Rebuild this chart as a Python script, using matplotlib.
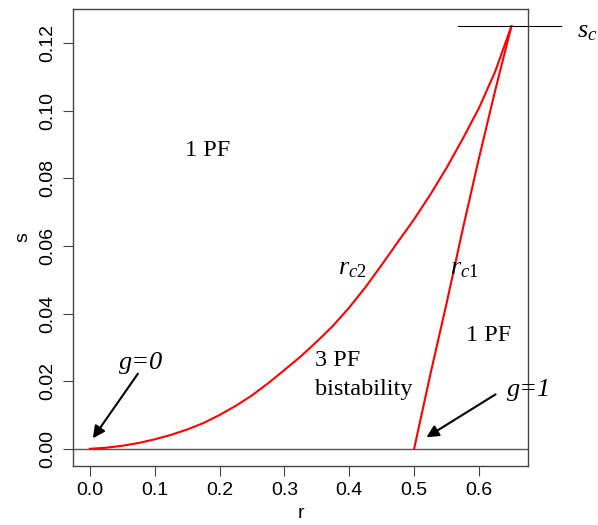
import numpy as np
import matplotlib
matplotlib.use("Agg")
import matplotlib.pyplot as plt

plt.rcParams['font.family'] = ['Liberation Sans', 'DejaVu Sans']
plt.rcParams['mathtext.fontset'] = 'custom'
plt.rcParams['mathtext.rm'] = 'Liberation Serif'
plt.rcParams['mathtext.it'] = 'Liberation Serif:italic'

# critical curves
r_c2 = [0.0, 0.025, 0.05, 0.075, 0.1, 0.125, 0.15, 0.175, 0.2, 0.225, 0.25, 0.275, 0.3,
        0.325, 0.35, 0.375, 0.4, 0.425, 0.45, 0.475, 0.5, 0.525, 0.55, 0.575, 0.6, 0.625, 0.65]
s_c2 = [0.0, 0.0003, 0.0009, 0.0017, 0.0028, 0.0041, 0.0057, 0.0076, 0.0100, 0.0127, 0.0158,
        0.0194, 0.0233, 0.0273, 0.0317, 0.0364, 0.0418, 0.0478, 0.0544, 0.0612, 0.0679, 0.0752,
        0.0831, 0.0917, 0.1008, 0.1116, 0.125]
r_c1 = [0.5, 0.525, 0.55, 0.575, 0.6, 0.625, 0.65]
s_c1 = [0.0, 0.022, 0.043, 0.065, 0.086, 0.106, 0.125]
s_crit = 0.125

xticks = [0.0, 0.1, 0.2, 0.3, 0.4, 0.5, 0.6]
yticks = [0.00, 0.02, 0.04, 0.06, 0.08, 0.10, 0.12]

fig = plt.figure(figsize=(5.98, 5.25), dpi=100)
ax = fig.add_axes([0.1221, 0.1130, 0.7613, 0.8693])

ax.axhline(0, color='#555555', lw=1)
ax.plot(r_c2, s_c2, color='red', lw=1.5)
ax.plot(r_c1, s_c1, color='red', lw=1.5)

# s_c marker line, runs out of the box on the right
ax.plot([0.567, 0.727], [s_crit, s_crit], color='black', lw=0.8, clip_on=False)

ax.set_xlim(-0.026, 0.676)
ax.set_ylim(-0.005, 0.13)
ax.set_xticks(xticks)
ax.set_xticklabels([f'{v:.1f}' for v in xticks])
ax.set_yticks(yticks)
ax.set_yticklabels([f'{v:.2f}' for v in yticks], rotation=90, va='center')
ax.tick_params(labelsize=14, length=7, width=0.8, color='#444444', pad=5)
for sp in ax.spines.values():
    sp.set_color('#444444')
    sp.set_linewidth(1)
ax.set_xlabel('r', fontsize=14, labelpad=4)
ax.set_ylabel('s', fontsize=14, labelpad=6)

serif = dict(family='Liberation Serif', fontsize=17.5)
ax.text(0.182, 0.0882, '1 PF', ha='center', va='center', **serif)
ax.text(0.615, 0.0336, '1 PF', ha='center', va='center', **serif)
ax.text(0.347, 0.0262, '3 PF', ha='left', va='center', **serif)
ax.text(0.347, 0.0176, 'bistability', ha='left', va='center', **serif)
ax.text(0.405, 0.0535, r'$r_{c2}$', ha='center', va='center', fontsize=19)
ax.text(0.577, 0.0535, r'$r_{c1}$', ha='center', va='center', fontsize=19)
ax.text(0.767, s_crit - 0.0015, r'$s_c$', ha='center', va='center', fontsize=19,
        clip_on=False)

gfont = dict(family='Liberation Serif', fontsize=19, style='italic')
ax.text(0.0786, 0.0253, 'g=0', ha='center', va='center', **gfont)
ax.text(0.678, 0.0173, 'g=1', ha='center', va='center', clip_on=False, **gfont)
arrow = dict(arrowstyle='-|>', color='black', lw=1.5, mutation_scale=18, shrinkA=0, shrinkB=0)
ax.annotate('', xy=(0.0046, 0.0031), xytext=(0.074, 0.0222), arrowprops=arrow)
ax.annotate('', xy=(0.519, 0.0034), xytext=(0.6256, 0.0161), arrowprops=arrow)

fig.savefig('out.png', dpi=100)
